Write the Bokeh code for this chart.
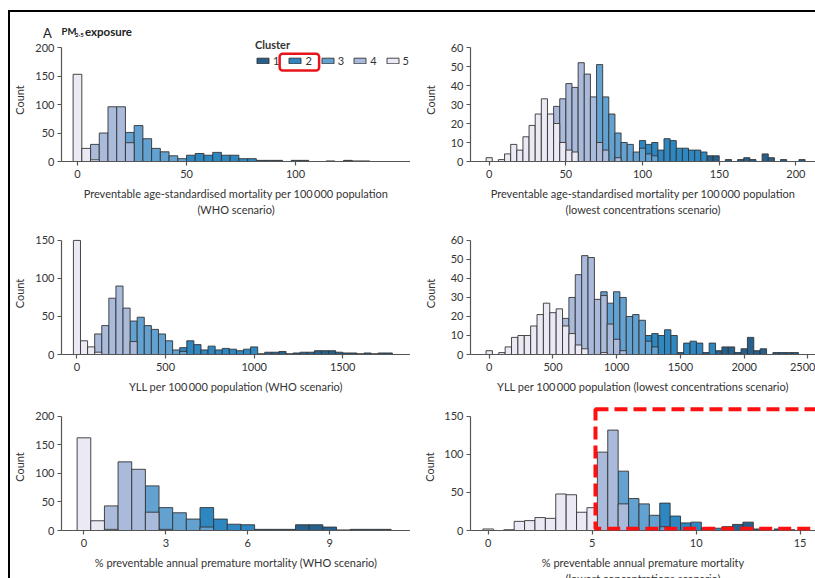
from bokeh.plotting import figure
from bokeh.models import (Range1d, FixedTicker, Legend, LegendItem, BoxAnnotation,
                          Spacer, Div, ColumnDataSource)
from bokeh.layouts import row, column
from bokeh.core.properties import value
from bokeh.embed import file_html
from bokeh.resources import INLINE

FONT = "Lato"
TXT = "#333333"
AX = "#555555"
OUTLINE = "#333333"
COLORS = {1: "#27608c", 2: "#2f87c1", 3: "#62a1d0", 4: "#a9badb", 5: "#ebe9f3"}
CLUSTERS = [1, 2, 3, 4, 5]

# ---------------- data: histogram counts per cluster, keyed by bin centre ----------------
P1_BW = 4
P1 = {
    1: {84: 2, 88: 2, 92: 2, 100: 2, 104: 2, 116: 1, 124: 2, 128: 1, 132: 1},
    2: {52: 11, 56: 14, 60: 11, 64: 16, 68: 11, 72: 11, 76: 5, 80: 5},
    3: {24: 51, 28: 63, 32: 40, 36: 23, 40: 17, 44: 10, 48: 5},
    4: {8: 30, 12: 50, 16: 96, 20: 96, 24: 33},
    5: {0: 153, 4: 23, 8: 3},
}
P2_BW = 4
P2 = {
    1: {144: 3, 148: 3, 156: 1, 164: 1, 168: 2, 172: 1, 180: 4, 184: 2, 192: 1, 204: 1},
    2: {100: 11, 104: 9, 108: 10, 112: 6, 116: 12, 120: 11, 124: 7, 128: 7, 132: 6, 136: 6, 140: 5},
    3: {72: 51, 76: 34, 80: 25, 84: 15, 88: 10, 92: 9, 96: 5, 100: 7, 104: 4, 108: 3},
    4: {44: 29, 48: 33, 52: 41, 56: 39, 60: 52, 64: 46, 68: 34, 72: 10, 76: 6, 84: 2},
    5: {0: 2, 8: 1, 12: 4, 16: 9, 20: 6, 24: 13, 28: 19, 32: 25, 36: 33, 40: 25, 44: 20,
        48: 10, 52: 6, 56: 5},
}
P3_BW = 40
P3 = {
    1: {1040: 1, 1080: 3, 1120: 3, 1160: 4, 1200: 1, 1240: 2, 1280: 3, 1320: 3, 1360: 5,
        1400: 5, 1440: 5, 1480: 3, 1520: 2, 1560: 2, 1600: 1, 1640: 2, 1680: 1, 1720: 2, 1760: 2},
    2: {600: 9, 640: 18, 680: 13, 720: 6, 760: 11, 800: 6, 840: 8, 880: 7, 920: 5, 960: 7, 1000: 10},
    3: {320: 44, 360: 49, 400: 38, 440: 33, 480: 27, 520: 18, 560: 6, 600: 4},
    4: {120: 27, 160: 38, 200: 74, 240: 90, 280: 61, 320: 17},
    5: {0: 150, 40: 18, 80: 10, 120: 3},
}
P4_BW = 50
P4 = {
    1: {1500: 1, 1700: 1, 1800: 2, 1850: 4, 1900: 4, 1950: 1, 2000: 3, 2050: 9, 2100: 2,
        2150: 3, 2250: 1, 2300: 1, 2350: 1, 2400: 1},
    2: {1250: 10, 1300: 11, 1350: 10, 1400: 13, 1450: 10, 1550: 6, 1600: 7, 1650: 6, 1750: 6},
    3: {900: 33, 950: 27, 1000: 33, 1050: 30, 1100: 20, 1150: 21, 1200: 18, 1250: 7, 1300: 4},
    4: {600: 19, 650: 30, 700: 42, 750: 52, 800: 51, 850: 29, 900: 31, 950: 16, 1000: 8, 1050: 2},
    5: {0: 2, 100: 1, 150: 4, 200: 9, 250: 10, 300: 10, 350: 15, 400: 21, 450: 27, 500: 22,
        550: 24, 600: 15, 650: 11, 700: 5, 750: 3, 900: 1},
}
P5_BW = 0.5
P5 = {
    1: {6.5: 2, 7.0: 2, 7.5: 2, 8.0: 10, 8.5: 10, 9.0: 6, 9.5: 1, 10.0: 2, 10.5: 2, 11.0: 2},
    2: {4.5: 40, 5.0: 20, 5.5: 11, 6.0: 10},
    3: {2.5: 78, 3.0: 40, 3.5: 31, 4.0: 20, 4.5: 6},
    4: {1.0: 43, 1.5: 120, 2.0: 107, 2.5: 32, 3.0: 2},
    5: {0.0: 162, 0.5: 17, 1.0: 2},
}
P6_BW = 0.5
P6 = {
    1: {11.5: 5, 12.0: 8, 12.5: 11, 13.0: 2, 14.0: 2, 14.5: 1},
    2: {8.5: 36, 9.0: 19, 9.5: 10, 10.0: 11, 10.5: 3, 11.0: 3},
    3: {6.5: 78, 7.0: 42, 7.5: 35, 8.0: 20, 8.5: 5},
    4: {5.5: 103, 6.0: 132, 6.5: 35, 7.0: 3},
    5: {0.0: 2, 1.0: 1, 1.5: 12, 2.0: 13, 2.5: 17, 3.0: 16, 3.5: 48, 4.0: 47, 4.5: 24, 5.0: 30},
}

P1_XTICKS = [0, 50, 100]
P2_XTICKS = [0, 50, 100, 150, 200]
P3_XTICKS = [0, 500, 1000, 1500]
P4_XTICKS = [0, 500, 1000, 1500, 2000, 2500]
P5_XTICKS = [0, 3, 6, 9]
P6_XTICKS = [0, 5, 10, 15]
P1_YTICKS = [0, 50, 100, 150, 200]
P2_YTICKS = [0, 10, 20, 30, 40, 50, 60]
P3_YTICKS = [0, 50, 100, 150]
P4_YTICKS = [0, 10, 20, 30, 40, 50, 60]
P5_YTICKS = [0, 50, 100, 150, 200]
P6_YTICKS = [0, 50, 100, 150]

THIN = "\u2009"
P1_XLABEL = f"Preventable age-standardised mortality per 100{THIN}000 population\n(WHO scenario)"
P2_XLABEL = f"Preventable age-standardised mortality per 100{THIN}000 population\n(lowest concentrations scenario)"
P3_XLABEL = f"YLL per 100{THIN}000 population (WHO scenario)"
P4_XLABEL = f"YLL per 100{THIN}000 population (lowest concentrations scenario)"
P5_XLABEL = "% preventable annual premature mortality (WHO scenario)"
P6_XLABEL = "% preventable annual premature mortality\n(lowest concentrations scenario)"


def panel(data, bw, width, height, xr, yr, ybound, xticks, yticks, xlabel,
          ml, mt, mb, ylab_standoff):
    p = figure(width=width, height=height, x_range=Range1d(*xr), y_range=Range1d(*yr),
               output_backend="svg", toolbar_location=None,
               min_border_left=ml, min_border_right=0, min_border_top=mt, min_border_bottom=mb)
    p.grid.visible = False
    p.outline_line_color = None
    p.background_fill_color = "white"
    p.border_fill_color = "white"
    rends = {}
    for k in CLUSTERS:
        d = data[k]
        cs = sorted(d.keys())
        src = ColumnDataSource(dict(left=[c - bw / 2 for c in cs],
                                    right=[c + bw / 2 for c in cs],
                                    top=[d[c] for c in cs]))
        rends[k] = p.quad(left="left", right="right", bottom=0, top="top", source=src,
                          fill_color=COLORS[k], line_color=OUTLINE, line_width=0.9)
    for ax in (p.xaxis[0], p.yaxis[0]):
        ax.axis_line_color = AX
        ax.axis_line_width = 1.2
        ax.major_tick_line_color = AX
        ax.major_tick_line_width = 1.2
        ax.major_tick_out = 4
        ax.major_tick_in = 0
        ax.minor_tick_line_color = None
        ax.major_label_text_font = FONT
        ax.major_label_text_font_size = "11px"
        ax.major_label_text_color = TXT
        ax.axis_label_text_font = FONT
        ax.axis_label_text_font_size = "11px"
        ax.axis_label_text_font_style = "normal"
        ax.axis_label_text_color = TXT
    p.xaxis.ticker = FixedTicker(ticks=xticks)
    p.yaxis.ticker = FixedTicker(ticks=yticks)
    p.yaxis.bounds = ybound
    p.yaxis.axis_label = "Count"
    p.yaxis.axis_label_standoff = ylab_standoff
    p.yaxis.major_label_standoff = 3
    p.xaxis.axis_label = xlabel
    p.xaxis.major_label_standoff = 4
    p.xaxis.axis_label_standoff = 6
    p.xaxis.axis_label_text_line_height = 1.3
    return p, rends


LW, RW = 400, 405

# header strip with the panel title
hdr = Div(width=805, height=26, margin=0, text=(
    '<div style="position:relative;width:805px;height:26px;font-family:Lato,sans-serif;color:#222222">'
    '<span style="position:absolute;left:33px;top:14.5px;font-size:13px;line-height:13px">A</span>'
    '<span style="position:absolute;left:51.5px;top:15.2px;font-size:9.5px;line-height:9.5px;font-weight:bold">PM</span>'
    '<span style="position:absolute;left:65px;top:19.7px;font-size:6px;line-height:6px;font-weight:bold">2·5</span>'
    '<span style="position:absolute;left:75px;top:13.8px;font-size:11.5px;line-height:11.5px;font-weight:bold">exposure</span>'
    '</div>'))

p1, r1 = panel(P1, P1_BW, LW, 184, (-7.32, 152.7), (0, 215.79), (0, 200), P1_XTICKS, P1_YTICKS,
               P1_XLABEL, 50, 0, 61, 6)
p2, _ = panel(P2, P2_BW, RW, 184, (-12.2, 212.8), (0, 64.74), (0, 60), P2_XTICKS, P2_YTICKS,
              P2_XLABEL, 60, 0, 61, 11)
p3, _ = panel(P3, P3_BW, LW, 173, (-87.2, 1882.4), (0, 160.4), (0, 150), P3_XTICKS, P3_YTICKS,
              P3_XLABEL, 50, 10, 40, 6)
p4, _ = panel(P4, P4_BW, RW, 173, (-146.7, 2559), (0, 64.17), (0, 60), P4_XTICKS, P4_YTICKS,
              P4_XLABEL, 60, 10, 40, 11)
p5, _ = panel(P5, P5_BW, LW, 193, (-0.822, 11.96), (0, 222.0), (0, 200), P5_XTICKS, P5_YTICKS,
              P5_XLABEL, 50, 8, 57, 6)
p6, _ = panel(P6, P6_BW, RW, 193, (-0.85, 15.74), (0, 166.96), (0, 150), P6_XTICKS, P6_YTICKS,
              P6_XLABEL, 60, 8, 57, 5)

# legend
legend = Legend(items=[LegendItem(label=value(str(k)), renderers=[r1[k]]) for k in CLUSTERS],
                orientation="horizontal", location=(194, 94), title="Cluster",
                title_text_font=FONT, title_text_font_style="bold", title_text_font_size="11px",
                title_text_color=TXT, title_standoff=3,
                label_text_font=FONT, label_text_font_size="11px", label_text_color=TXT,
                glyph_width=15, glyph_height=7, label_standoff=3, label_width=6, label_height=12,
                spacing=8, padding=0, margin=0, border_line_color=None, background_fill_alpha=0)
p1.add_layout(legend)

# red highlight around legend item 2
p1.add_layout(BoxAnnotation(left=92.7, right=110.8, bottom=159.6, top=189,
                            fill_alpha=0, line_color="#e8141b", line_alpha=1.0,
                            line_width=2.5, border_radius=3))
# red dashed box in last panel
p6.add_layout(BoxAnnotation(left=5.16, right=17.5, bottom=2.4, top=159.5,
                            fill_alpha=0, line_color="#ff1010", line_alpha=1.0,
                            line_width=4, line_dash="13 6"))

hline = Spacer(width=805, height=2, margin=0, styles={"background-color": "#000000"})
vline = Spacer(width=2, height=568, margin=0, styles={"background-color": "#000000"})
inner = column(hline, hdr, row(p1, p2), row(p3, p4), row(p5, p6))
layout = column(Spacer(width=815, height=10, margin=0),
                row(Spacer(width=8, height=568, margin=0), vline, inner),
                width=815, height=578, styles={"overflow": "hidden"})

open("out.html", "w").write(file_html(layout, INLINE))
